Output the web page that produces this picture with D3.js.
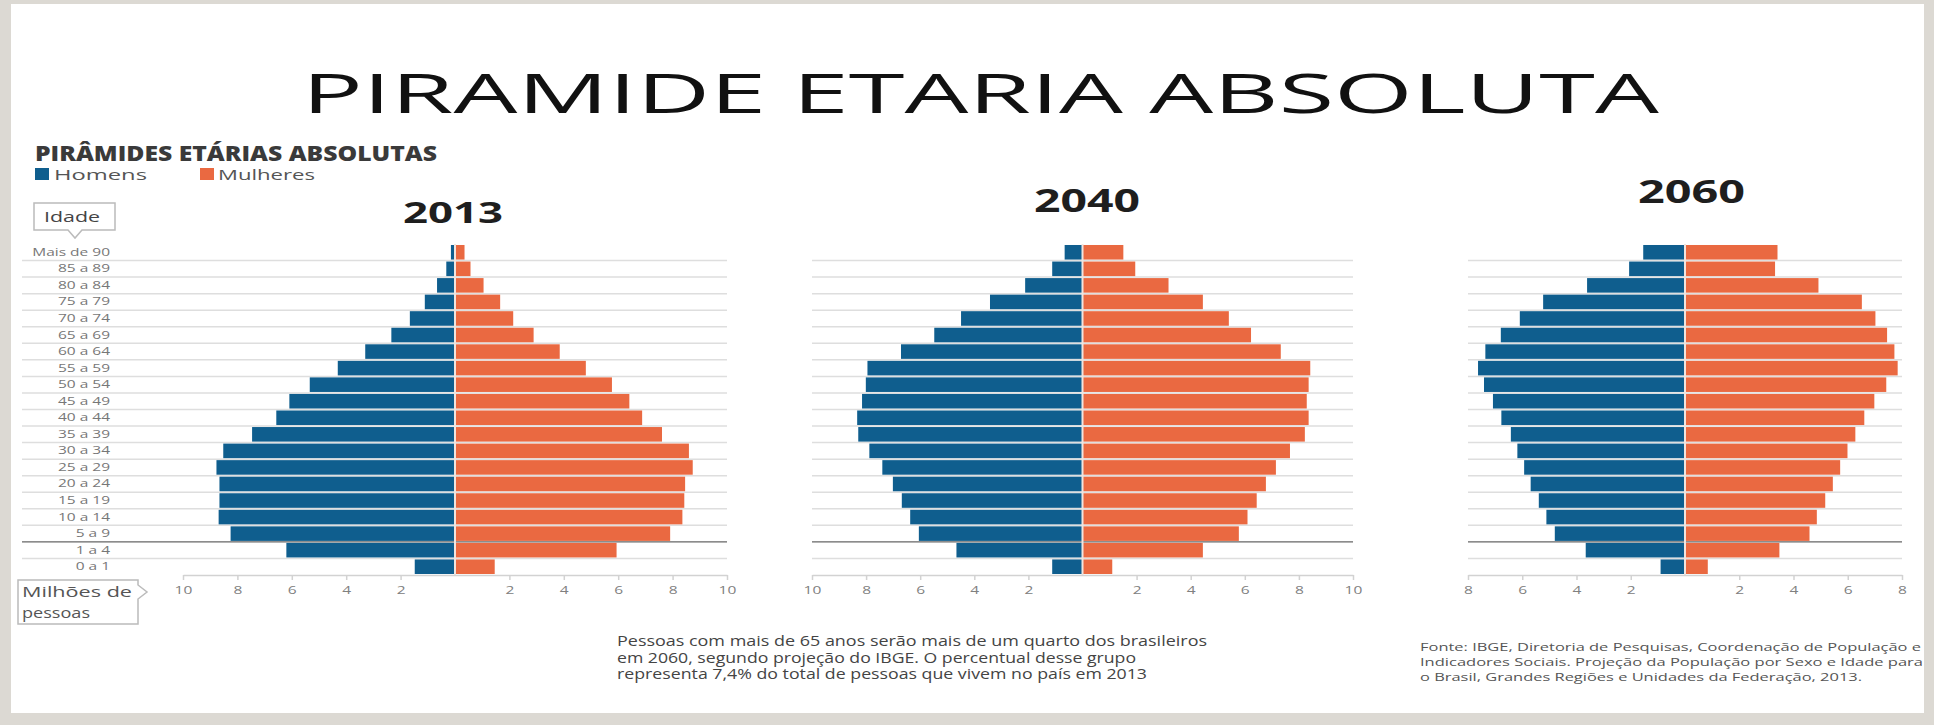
<!DOCTYPE html>
<html>
<head>
<meta charset="utf-8">
<script src="https://cdn.jsdelivr.net/npm/d3@7"></script>
<style>
  body { margin: 0; background: #dcd9d3; }
  svg { display: block; font-family: "Open Sans", sans-serif; }
</style>
</head>
<body>
<svg id="chart" width="1934" height="725"></svg>
<script>
// age groups, top to bottom
const ageGroups = ["Mais de 90", "85 a 89", "80 a 84", "75 a 79", "70 a 74", "65 a 69", "60 a 64",
    "55 a 59", "50 a 54", "45 a 49", "40 a 44", "35 a 39", "30 a 34", "25 a 29", "20 a 24",
    "15 a 19", "10 a 14", "5 a 9", "1 a 4", "0 a 1"];

// millions of people
const men2013 = [0.15, 0.32, 0.66, 1.11, 1.66, 2.34, 3.3, 4.31, 5.34, 6.09, 6.57, 7.46, 8.52, 8.77, 8.66, 8.66, 8.69, 8.25, 6.2, 1.48];
const women2013 = [0.35, 0.57, 1.05, 1.66, 2.14, 2.89, 3.85, 4.81, 5.77, 6.41, 6.88, 7.61, 8.6, 8.74, 8.46, 8.43, 8.36, 7.91, 5.94, 1.46];
const men2040 = [0.66, 1.12, 2.12, 3.42, 4.49, 5.48, 6.71, 7.95, 8.01, 8.15, 8.33, 8.29, 7.88, 7.4, 7.01, 6.68, 6.37, 6.05, 4.66, 1.12];
const women2040 = [1.51, 1.95, 3.18, 4.45, 5.41, 6.23, 7.33, 8.42, 8.36, 8.29, 8.36, 8.22, 7.67, 7.15, 6.78, 6.44, 6.1, 5.78, 4.45, 1.1];
const men2060 = [1.54, 2.06, 3.61, 5.23, 6.09, 6.79, 7.36, 7.63, 7.41, 7.08, 6.77, 6.42, 6.18, 5.93, 5.69, 5.39, 5.11, 4.8, 3.66, 0.9];
const women2060 = [3.41, 3.32, 4.92, 6.52, 7.02, 7.45, 7.72, 7.84, 7.42, 6.98, 6.61, 6.28, 5.99, 5.72, 5.45, 5.17, 4.86, 4.59, 3.48, 0.84];

const ticks10 = [-10, -8, -6, -4, -2, 2, 4, 6, 8, 10];
const ticks8 = [-8, -6, -4, -2, 2, 4, 6, 8];

const years = ["2013", "2040", "2060"];
const seriesNames = ["Homens", "Mulheres"];

const noteLines = [
    "Pessoas com mais de 65 anos serão mais de um quarto dos brasileiros",
    "em 2060, segundo projeção do IBGE. O percentual desse grupo",
    "representa 7,4% do total de pessoas que vivem no país em 2013"
];
const sourceLines = [
    "Fonte: IBGE, Diretoria de Pesquisas, Coordenação de População e",
    "Indicadores Sociais. Projeção da População por Sexo e Idade para",
    "o Brasil, Grandes Regiões e Unidades da Federação, 2013."
];

const BLUE = "#0f5e8e";
const ORANGE = "#ea6941";

const svg = d3.select("#chart");

// white slide area
svg.append("rect")
    .attr("x", 11).attr("y", 4)
    .attr("width", 1913).attr("height", 709)
    .attr("fill", "#fff");

// helper: text squeezed / stretched to the width seen in the picture
function fitText(g, str, x, y, width, size, opts = {}) {
    return g.append("text")
        .attr("x", x).attr("y", y)
        .attr("font-size", size)
        .attr("font-weight", opts.weight || 400)
        .attr("fill", opts.color || "#444")
        .attr("textLength", width)
        .attr("lengthAdjust", "spacingAndGlyphs")
        .text(str);
}

fitText(svg, "PIRAMIDE ETARIA ABSOLUTA", 302, 113, 1357, 54, { color: "#111" });
fitText(svg, "PIRÂMIDES ETÁRIAS ABSOLUTAS", 35, 161, 402, 21, { weight: 800, color: "#3a3a3a" });

// legend
const legend = svg.append("g").attr("class", "legend");
const legendPos = [{ box: 35, text: 54, width: 93 }, { box: 200, text: 218, width: 97 }];
seriesNames.forEach((name, i) => {
    legend.append("rect")
        .attr("x", legendPos[i].box).attr("y", 168)
        .attr("width", 14).attr("height", 12)
        .attr("fill", i === 0 ? BLUE : ORANGE);
    fitText(legend, name, legendPos[i].text, 180, legendPos[i].width, 15, { color: "#555" });
});

// "Idade" callout
svg.append("path")
    .attr("d", "M34,203H115V230H82L75,238L68,230H34Z")
    .attr("fill", "#fff").attr("stroke", "#bbb").attr("stroke-width", 1.5);
fitText(svg, "Idade", 44, 222, 56, 14, { color: "#444" });

// "Milhões de pessoas" callout
svg.append("path")
    .attr("d", "M18,580H138V585L147,592L138,599V624H18Z")
    .attr("fill", "#fff").attr("stroke", "#bbb").attr("stroke-width", 1.5);
fitText(svg, "Milhões de", 22, 597, 110, 15, { color: "#555" });
fitText(svg, "pessoas", 22, 618, 68, 15, { color: "#555" });

// shared vertical band scale
const y = d3.scaleBand()
    .domain(ageGroups)
    .range([244, 575])
    .paddingInner(0.12)
    .paddingOuter(0.06);

// age labels (drawn stretched like the picture)
const labelG = svg.append("g").attr("transform", "translate(110,0) scale(1.55,1)");
labelG.selectAll("text")
    .data(ageGroups)
    .join("text")
    .attr("x", 0)
    .attr("y", d => y(d) + y.bandwidth() / 2 + 3.5)
    .attr("text-anchor", "end")
    .attr("font-size", 10)
    .attr("fill", "#777")
    .text(d => d);

const panels = [
    { year: years[0], men: men2013, women: women2013, max: 10, ticks: ticks10, range: [183, 727], gridFrom: 22,
      title: { x: 403, y: 223, w: 100, size: 29 } },
    { year: years[1], men: men2040, women: women2040, max: 10, ticks: ticks10, range: [812, 1353], gridFrom: 812,
      title: { x: 1034, y: 212, w: 106, size: 32 } },
    { year: years[2], men: men2060, women: women2060, max: 8, ticks: ticks8, range: [1468, 1902], gridFrom: 1468,
      title: { x: 1638, y: 203, w: 107, size: 32 } }
];

const step = y.step();
const y0 = y.range()[0];

panels.forEach(p => {
    const x = d3.scaleLinear().domain([-p.max, p.max]).range(p.range);
    const g = svg.append("g").attr("class", "pyramid");

    // row separators
    const bounds = d3.range(1, ageGroups.length);
    g.selectAll("line.grid")
        .data(bounds)
        .join("line")
        .attr("class", "grid")
        .attr("x1", p.gridFrom).attr("x2", p.range[1])
        .attr("y1", d => y0 + d * step).attr("y2", d => y0 + d * step)
        .attr("stroke", d => d === ageGroups.length - 2 ? "#666" : "#dedede")
        .attr("stroke-width", d => d === ageGroups.length - 2 ? 1.2 : 1.5);

    const rows = ageGroups.map((a, i) => ({ age: a, men: p.men[i], women: p.women[i] }));

    g.selectAll("rect.men")
        .data(rows)
        .join("rect")
        .attr("class", "men")
        .attr("x", d => x(-d.men))
        .attr("y", d => y(d.age))
        .attr("width", d => x(0) - x(-d.men))
        .attr("height", y.bandwidth())
        .attr("fill", BLUE);

    g.selectAll("rect.women")
        .data(rows)
        .join("rect")
        .attr("class", "women")
        .attr("x", x(0))
        .attr("y", d => y(d.age))
        .attr("width", d => x(d.women) - x(0))
        .attr("height", y.bandwidth())
        .attr("fill", ORANGE);

    // thin light divider in the middle
    g.append("line")
        .attr("x1", x(0)).attr("x2", x(0))
        .attr("y1", y0).attr("y2", y.range()[1])
        .attr("stroke", "#f1e4de").attr("stroke-width", 2);

    const axis = g.append("g")
        .attr("transform", `translate(0,${y.range()[1]})`)
        .call(d3.axisBottom(x).tickValues(p.ticks).tickFormat(d => Math.abs(d)).tickSize(5).tickSizeOuter(0).tickPadding(6));
    axis.select(".domain").attr("stroke", "#d2d2d2").attr("stroke-width", 1.5);
    axis.selectAll(".tick line").attr("stroke", "#d2d2d2").attr("stroke-width", 1.5);
    axis.selectAll(".tick text")
        .attr("font-size", 11.5)
        .attr("font-family", "Open Sans, sans-serif")
        .attr("fill", "#808080")
        .attr("transform", "scale(1.35,1)");

    fitText(g, p.year, p.title.x, p.title.y, p.title.w, p.title.size, { weight: 700, color: "#1e1e1e" });
});

// notes
const noteWidths = [590, 519, 530];
noteLines.forEach((t, i) => fitText(svg, t, 617, 646 + i * 16.5, noteWidths[i], 14, { color: "#444" }));

const sourceWidths = [501, 503, 442];
sourceLines.forEach((t, i) => fitText(svg, t, 1420, 651 + i * 15, sourceWidths[i], 11, { color: "#555" }));
</script>
</body>
</html>
